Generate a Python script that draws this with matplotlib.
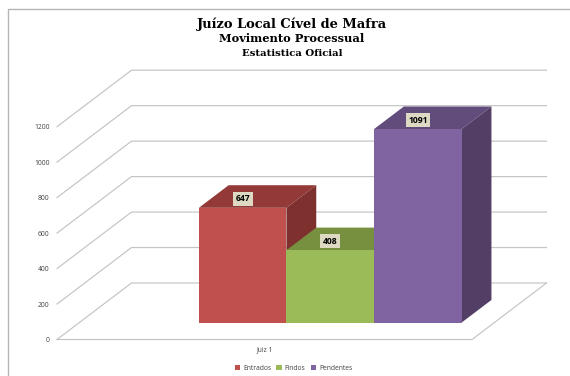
import matplotlib
matplotlib.use('Agg')
import matplotlib.pyplot as plt
from matplotlib.lines import Line2D
from matplotlib.patches import Polygon

plt.rcParams['font.family'] = ['Open Sans', 'DejaVu Sans']

categories = ['Juiz 1']
series = ['Entrados', 'Findos', 'Pendentes']
values = [647, 408, 1091]
y_ticks = [0, 200, 400, 600, 800, 1000, 1200]

front_colors = ['#C0504D', '#9BBB59', '#8064A2']
top_colors = ['#933A38', '#76903F', '#624C7C']
side_colors = ['#7E302E', '#647A35', '#533F66']

W, H = 570, 376
fig = plt.figure(figsize=(W / 100, H / 100), dpi=100)

# the front plane of the fake 3D box, in pixels of the picture
ax = fig.add_axes([57 / W, 1 - 339.5 / H, 415 / W, 212.8 / H])
ax.set_xlim(0, 415)
ax.set_ylim(0, 1200)
for s in ax.spines.values():
    s.set_visible(False)
ax.patch.set_visible(False)

#depth vector of the floor, in x units and value units
depth_x = 74.5
depth_y = 56.5 * 1200 / 212.8


def shifted(x, v, d):
    return (x + d * depth_x, v + d * depth_y)


#Gridlines run up the left wall and then along the back wall.
for t in y_ticks:
    ax.plot(*zip(shifted(0, t, 0), shifted(0, t, 1), shifted(415, t, 1)),
            color='#C4C4C4', lw=0.85, clip_on=False, zorder=1,
            solid_joinstyle='miter')

#Floor edges.
ax.plot(*zip(shifted(0, 0, 0), shifted(415, 0, 0), shifted(415, 0, 1)),
        color='#C4C4C4', lw=0.85, clip_on=False, zorder=1)

#Bars, left to right, so each one covers the side of the previous one.
bar_start = 119.5
bar_width = 87.6
d0, d1 = 0.3, 0.7
handles = []
for i, v in enumerate(values):
    x0 = bar_start + i * bar_width
    x1 = x0 + bar_width
    z = 2 + i
    top = Polygon([shifted(x0, v, d0), shifted(x1, v, d0), shifted(x1, v, d1), shifted(x0, v, d1)],
                  facecolor=top_colors[i], edgecolor='none', clip_on=False, zorder=z)
    side = Polygon([shifted(x1, 0, d0), shifted(x1, v, d0), shifted(x1, v, d1), shifted(x1, 0, d1)],
                   facecolor=side_colors[i], edgecolor='none', clip_on=False, zorder=z)
    front = Polygon([shifted(x0, 0, d0), shifted(x1, 0, d0), shifted(x1, v, d0), shifted(x0, v, d0)],
                    facecolor=front_colors[i], edgecolor='none', clip_on=False, zorder=z,
                    label=series[i])
    ax.add_patch(top)
    ax.add_patch(side)
    ax.add_patch(front)
    handles.append(front)
    bx, by = shifted(x0 + bar_width / 2, v, d0)
    ax.annotate(str(v), (bx, by), xytext=(0, 6.5), textcoords='offset points',
                ha='center', va='center', fontsize=6.2, fontweight='bold', color='black',
                bbox=dict(boxstyle='square,pad=0.3', facecolor='#DDD9C3', edgecolor='none'),
                zorder=10, annotation_clip=False)

#Axis text.
ax.set_yticks(y_ticks)
ax.set_yticklabels([str(t) for t in y_ticks])
ax.set_xticks([207.5])
ax.set_xticklabels(categories)
ax.tick_params(axis='y', length=0, pad=5.5, labelsize=4.9, labelcolor='#404040')
ax.tick_params(axis='x', length=0, pad=5.2, labelsize=4.9, labelcolor='#404040')

ax.legend(handles=handles, ncol=3, frameon=False, fontsize=4.9, labelcolor='#404040',
          handlelength=0.8, handleheight=0.8, handletextpad=0.4, columnspacing=0.8,
          loc='center', bbox_to_anchor=((293.5 - 57) / 415, (339.5 - 368) / 212.8),
          borderpad=0, borderaxespad=0)

#Titles.
fig.text(292 / W, 1 - 24 / H, 'Juízo Local Cível de Mafra', family='DejaVu Serif',
         fontsize=9.4, fontweight='bold', ha='center', va='center')
fig.text(292 / W, 1 - 39 / H, 'Movimento Processual', family='DejaVu Serif',
         fontsize=8.2, fontweight='bold', ha='center', va='center')
fig.text(292 / W, 1 - 53 / H, 'Estatistica Oficial', family='DejaVu Serif',
         fontsize=7.3, fontweight='bold', ha='center', va='center')

#Chart frame, only the top and left edges show.
fig.add_artist(Line2D([8 / W, 8 / W, 1], [0, 1 - 9.3 / H, 1 - 9.3 / H],
                      color='#B5B5B5', lw=1.0, transform=fig.transFigure))

fig.savefig('out.png', dpi=100)
